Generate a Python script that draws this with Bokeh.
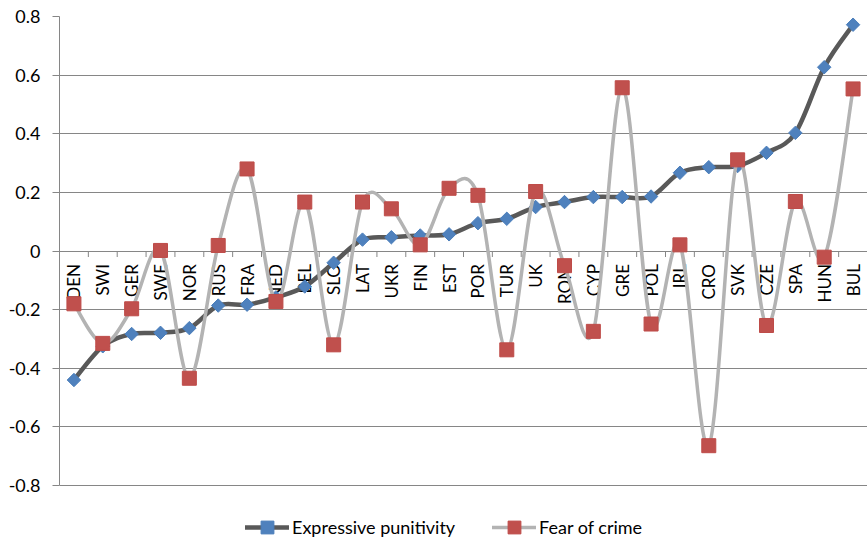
import numpy as np
from bokeh.plotting import figure
from bokeh.models import Legend, LegendItem, FixedTicker, Range1d
from bokeh.core.properties import value
from bokeh.embed import file_html
from bokeh.resources import INLINE

countries = ["DEN", "SWI", "GER", "SWE", "NOR", "RUS", "FRA", "NED", "BEL", "SLO",
             "LAT", "UKR", "FIN", "EST", "POR", "TUR", "UK", "ROM", "CYP", "GRE",
             "POL", "IRL", "CRO", "SVK", "CZE", "SPA", "HUN", "BUL"]
expressive = [-0.44, -0.325, -0.283, -0.279, -0.263, -0.186, -0.183, -0.158, -0.121, -0.04,
              0.039, 0.047, 0.053, 0.057, 0.095, 0.11, 0.15, 0.167, 0.184, 0.184,
              0.186, 0.267, 0.286, 0.29, 0.335, 0.403, 0.627, 0.772]
fear = [-0.18, -0.315, -0.197, 0.002, -0.434, 0.019, 0.28, -0.172, 0.167, -0.32,
        0.167, 0.144, 0.021, 0.214, 0.19, -0.337, 0.203, -0.05, -0.274, 0.557,
        -0.249, 0.021, -0.664, 0.311, -0.254, 0.169, -0.021, 0.553]
ytick_vals = [-0.8, -0.6, -0.4, -0.2, 0, 0.2, 0.4, 0.6, 0.8]
ytick_labels = ["-0.8", "-0.6", "-0.4", "-0.2", "0", "0.2", "0.4", "0.6", "0.8"]

FONT = "Lato"
GRID = "#868686"

xs = np.arange(len(countries), dtype=float)


def smooth(x, y):
    x = np.asarray(x, float)
    y = np.asarray(y, float)
    n = len(x)
    xp = np.concatenate([[x[0]], x, [x[-1]]])
    yp = np.concatenate([[y[0]], y, [y[-1]]])
    return dict(
        x0=x[:-1], y0=y[:-1], x1=x[1:], y1=y[1:],
        cx0=x[:-1] + (xp[2:n + 1] - xp[0:n - 1]) / 6.0,
        cy0=y[:-1] + (yp[2:n + 1] - yp[0:n - 1]) / 6.0,
        cx1=x[1:] - (xp[3:n + 2] - xp[1:n]) / 6.0,
        cy1=y[1:] - (yp[3:n + 2] - yp[1:n]) / 6.0,
    )


# extra room below -0.8 holds the legend inside the frame
p = figure(width=867, height=539,
           x_range=Range1d(-0.5, len(countries) - 0.5),
           y_range=Range1d(-0.984, ytick_vals[-1]),
           output_backend="svg", toolbar_location=None, x_axis_location=None,
           min_border_left=59, min_border_right=0, min_border_top=16, min_border_bottom=0,
           outline_line_color=None, background_fill_color="white", border_fill_color="white")

p.xgrid.visible = False
p.ygrid.ticker = FixedTicker(ticks=ytick_vals)
p.ygrid.grid_line_color = GRID
p.ygrid.grid_line_width = 1

ax = p.yaxis[0]
ax.ticker = FixedTicker(ticks=ytick_vals)
ax.bounds = (ytick_vals[0], ytick_vals[-1])
ax.major_label_overrides = {v: l for v, l in zip(ytick_vals, ytick_labels)}
ax.axis_line_color = GRID
ax.major_tick_line_color = GRID
ax.major_tick_out = 7
ax.major_tick_in = 0
ax.minor_tick_line_color = None
ax.major_label_text_font = FONT
ax.major_label_text_font_size = "18px"
ax.major_label_text_color = "black"
ax.major_label_standoff = 12

# category boundary ticks on the zero line
bounds = np.arange(len(countries) + 1) - 0.5
p.ray(x=bounds, y=np.zeros_like(bounds), length=6, length_units="screen",
      angle=-np.pi / 2, line_color=GRID, line_width=1)

# category labels
p.text(x=xs, y=np.zeros_like(xs), text=countries, angle=np.pi / 2,
       text_align="right", text_baseline="middle", y_offset=13,
       text_font=value(FONT), text_font_size="17px", text_color="black")

# Expressive punitivity
l1 = p.bezier(line_color="#595959", line_width=4.5, line_cap="round", **smooth(xs, expressive))
m1 = p.scatter(xs, expressive, marker="square", angle=np.pi / 4, size=9.5,
               fill_color="#4F81BD", line_color="#4A7EBB", line_width=1)

# Fear of crime
l2 = p.bezier(line_color="#B3B3B3", line_width=3.5, line_cap="round", **smooth(xs, fear))
m2 = p.scatter(xs, fear, marker="square", size=14,
               fill_color="#C0504D", line_color="#BE4B48", line_width=1)

legend = Legend(items=[LegendItem(label="Expressive punitivity", renderers=[l1, m1]),
                       LegendItem(label="Fear of crime", renderers=[l2, m2])],
                orientation="horizontal", location=(186, -4),
                label_text_font=FONT, label_text_font_size="18px", label_text_color="black",
                border_line_alpha=0, background_fill_alpha=0,
                glyph_width=44, glyph_height=32, spacing=37, padding=0, margin=0,
                label_standoff=3)
p.add_layout(legend)

open("out.html", "w").write(file_html(p, INLINE))
